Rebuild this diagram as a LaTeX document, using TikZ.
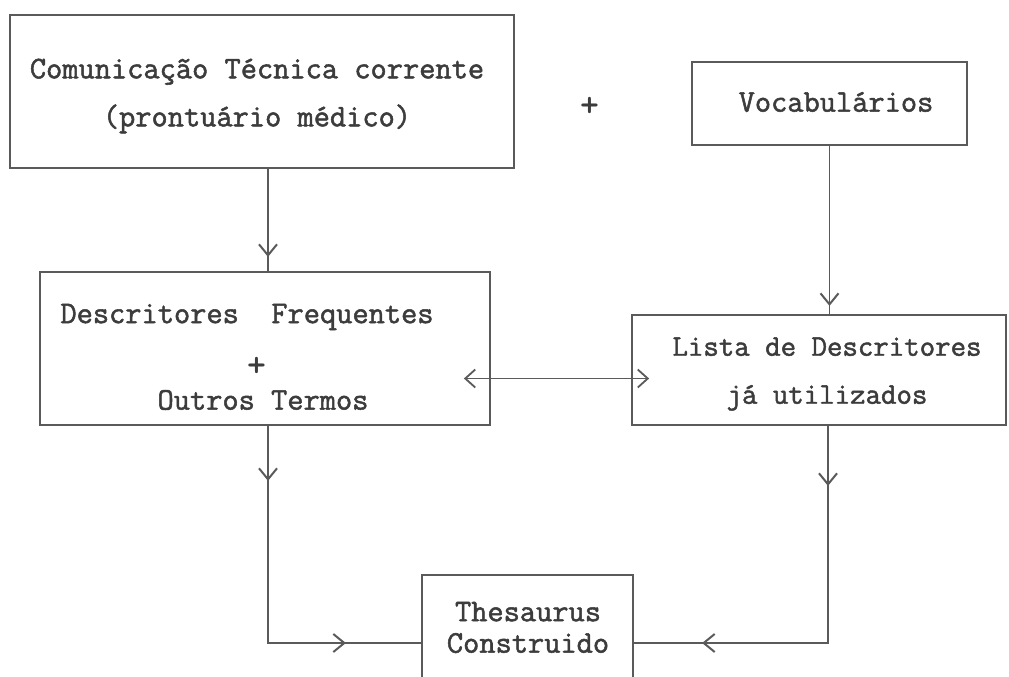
\documentclass[tikz,border=0pt]{standalone}
\usepackage{fontspec}
\newfontfamily\typew{Latin Modern Mono}[FakeBold=1.6]
\usetikzlibrary{arrows.meta,decorations.markings,calc}
\definecolor{linec}{HTML}{5A5A5A}
\definecolor{textc}{HTML}{3C3C3C}
\begin{document}
\begin{tikzpicture}[x=1pt,y=-1pt,
  box/.style={draw=linec, line width=1.8pt, inner sep=0pt},
  txt/.style={text=textc, font=\fontsize{31.5}{48}\selectfont\typew, align=center, inner sep=0pt},
  plussign/.style={text=textc, font=\fontsize{36}{36}\selectfont\bfseries\ttfamily, inner sep=0pt},
  conn/.style={draw=linec, line width=1.8pt},
  bothchev/.style={{Straight Barb[length=10pt,width=18pt,line width=1.8pt]}-{Straight Barb[length=10pt,width=18pt,line width=1.8pt]}},
  onemark/.style={postaction={decorate}, decoration={markings,
     mark=at position #1 with {\arrow[linec]{Straight Barb[length=11pt,width=18pt,line width=2pt]}}}},
  twomarks/.style 2 args={postaction={decorate}, decoration={markings,
     mark=at position #1 with {\arrow[linec]{Straight Barb[length=11pt,width=18pt,line width=2pt]}},
     mark=at position #2 with {\arrow[linec]{Straight Barb[length=11pt,width=18pt,line width=2pt]}}}},
]
\useasboundingbox (0,0) rectangle (1009,677);
\fill[white] (0,0) rectangle (1009,677);
\begin{scope}
\clip (0,0) rectangle (1009,677);

% boxes
\node[box, minimum width=504pt, minimum height=153pt] (c1) at (262,91.5) {};
\node[box, minimum width=275pt, minimum height=83pt] (voc) at (829.5,103.5) {};
\node[box, minimum width=450pt, minimum height=153pt] (desc) at (265,348.5) {};
\node[box, minimum width=374pt, minimum height=110pt] (lista) at (819,370) {};
\node[box, minimum width=211pt, minimum height=136pt] (thes) at (527.5,643) {};

% texts
\node[txt] (c1t) at (257,96) {Comunicação Técnica corrente\\(prontuário médico)};
\node[plussign] (plus1) at (590,107) {+};
\node[txt] (voct) at (836,102) {Vocabulários};
\node[txt] (desct1) at (247,317) {Descritores\ \ Frequentes};
\node[plussign] (plus2) at (257,367) {+};
\node[txt] (desct2) at (263,400) {Outros Termos};
\node[txt, font=\fontsize{30}{48}\selectfont\typew] (listat) at (827,374) {Lista de Descritores\\já utilizados};
\node[txt, font=\fontsize{31.5}{31.5}\selectfont\typew] (thest) at (528,627.5) {Thesaurus\\Construido};

% connectors
\draw[conn, onemark=88pt] ([xshift=6pt]c1.south) -- ([xshift=6pt]c1.south |- desc.north);
\draw[conn, onemark=160pt] (voc.south) -- (voc.south |- lista.north);
\draw[conn, bothchev, shorten <=-27pt, shorten >=-18pt]
  ([yshift=-30pt]desc.east) -- ([yshift=-30pt]desc.east -| lista.west);
\draw[conn, twomarks={55pt}{295pt}] ([xshift=3pt]desc.south) |- (thes.west);
\draw[conn, twomarks={60pt}{343pt}] ([xshift=9pt]lista.south) |- (thes.east);
\end{scope}
\end{tikzpicture}
\end{document}
